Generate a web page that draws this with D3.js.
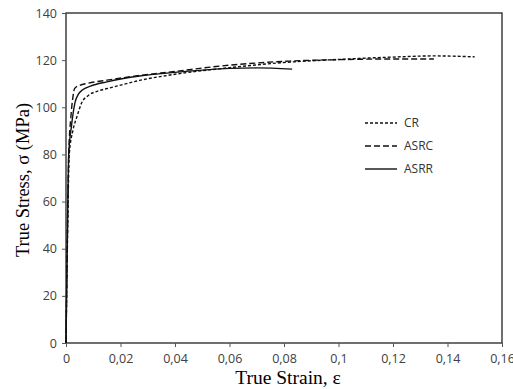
<html>
<head>
<script src="https://cdn.jsdelivr.net/npm/d3@7"></script>
</head>
<body style="margin:0;background:#fff">
<svg width="513" height="389" id="chart"></svg>
<script>
// strain / stress readings for each specimen
var crStrain   = [0, 0.0005, 0.0012, 0.0025, 0.004, 0.0058, 0.0082, 0.012, 0.016, 0.027, 0.04, 0.06, 0.08, 0.1, 0.12, 0.135, 0.15];
var crStress   = [0, 40, 80, 90, 96, 102, 105, 107, 108.2, 111.4, 114, 116.8, 119, 120.3, 121.3, 121.8, 121.4];
var asrcStrain = [0, 0.0005, 0.001, 0.0018, 0.0025, 0.0032, 0.005, 0.008, 0.015, 0.027, 0.04, 0.055, 0.07, 0.082, 0.1, 0.12, 0.135];
var asrcStress = [0, 45, 80, 96, 104, 108, 109.3, 110.2, 111.5, 113.5, 115.2, 117.3, 118.8, 119.6, 120.2, 120.5, 120.5];
var asrrStrain = [0, 0.0005, 0.001, 0.002, 0.0033, 0.0045, 0.006, 0.009, 0.015, 0.027, 0.04, 0.06, 0.07, 0.083];
var asrrStress = [0, 45, 80, 92, 102, 105.5, 107.3, 109, 110.8, 113.3, 114.8, 116.5, 116.7, 116.2];

var seriesNames = ["CR", "ASRC", "ASRR"];
var xTicks = [0, 0.02, 0.04, 0.06, 0.08, 0.1, 0.12, 0.14, 0.16];
var xTickLabels = ["0", "0,02", "0,04", "0,06", "0,08", "0,1", "0,12", "0,14", "0,16"];
var yTicks = [0, 20, 40, 60, 80, 100, 120, 140];

var svg = d3.select("#chart"),
    pLeft = 66, pRight = 502, pTop = 13, pBottom = 343;

var x = d3.scaleLinear().domain([0, 0.16]).range([pLeft, pRight]);
var y = d3.scaleLinear().domain([0, 140]).range([pBottom, pTop]);

var dashes = { CR: "3,2", ASRC: "6,3", ASRR: null };

var series = [
  { name: "CR", pts: d3.zip(crStrain, crStress) },
  { name: "ASRC", pts: d3.zip(asrcStrain, asrcStress) },
  { name: "ASRR", pts: d3.zip(asrrStrain, asrrStress) }
];

// frame
svg.append("rect")
  .attr("x", pLeft).attr("y", pTop)
  .attr("width", pRight - pLeft).attr("height", pBottom - pTop)
  .style("fill", "none").style("stroke", "#222").style("stroke-width", 1.3);

// axes
var xAxis = d3.axisBottom(x).tickValues(xTicks)
  .tickFormat(function(d, i) { return xTickLabels[i]; })
  .tickSize(4).tickSizeOuter(0);
var yAxis = d3.axisLeft(y).tickValues(yTicks).tickSize(4).tickSizeOuter(0);

var gx = svg.append("g").attr("transform", "translate(0," + pBottom + ")").call(xAxis);
var gy = svg.append("g").attr("transform", "translate(" + pLeft + ",0)").call(yAxis);

[gx, gy].forEach(function(g) {
  g.select(".domain").remove();
  g.selectAll(".tick line").style("stroke", "#555");
  g.selectAll(".tick text")
    .style("font-family", "'Open Sans', sans-serif")
    .style("font-size", "12.5px")
    .style("fill", "#404040");
});
gx.selectAll(".tick text").attr("dy", "1.05em");
gy.selectAll(".tick text").attr("x", -9);

// axis titles
svg.append("text")
  .attr("x", 288).attr("y", 384)
  .attr("text-anchor", "middle")
  .style("font-family", "'Liberation Serif', serif")
  .style("font-size", "19.5px")
  .text("True Strain, \u03b5");

svg.append("text")
  .attr("transform", "translate(29,180) rotate(-90)")
  .attr("text-anchor", "middle")
  .style("font-family", "'Liberation Serif', serif")
  .style("font-size", "18.5px")
  .text("True Stress, \u03c3 (MPa)");

// curves
var line = d3.line()
  .x(function(d) { return x(d[0]); })
  .y(function(d) { return y(d[1]); })
  .curve(d3.curveMonotoneX);

svg.append("g").selectAll("path")
  .data(series)
  .enter().append("path")
  .attr("d", function(d) { return line(d.pts); })
  .style("fill", "none")
  .style("stroke", "#111")
  .style("stroke-width", 1.4)
  .style("stroke-dasharray", function(d) { return dashes[d.name]; });

// legend
var legend = svg.append("g").selectAll("g")
  .data(seriesNames)
  .enter().append("g")
  .attr("transform", function(d, i) { return "translate(365," + (123 + i * 23) + ")"; });

legend.append("line")
  .attr("x1", 0).attr("x2", 32)
  .style("stroke", "#111").style("stroke-width", 1.4)
  .style("stroke-dasharray", function(d) { return dashes[d]; });

legend.append("text")
  .attr("x", 39).attr("dy", "0.35em")
  .style("font-family", "'Open Sans', sans-serif")
  .style("font-size", "12px")
  .style("fill", "#333")
  .text(function(d) { return d; });
</script>
</body>
</html>
